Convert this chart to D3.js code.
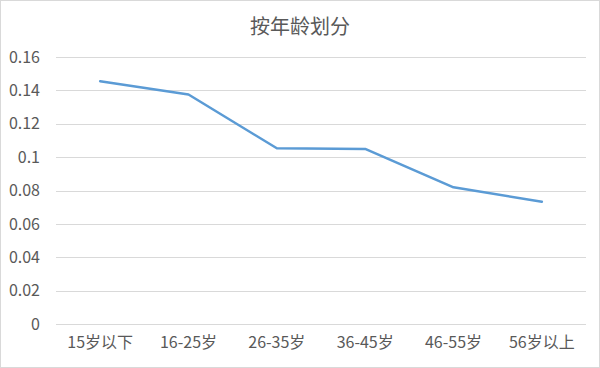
<!DOCTYPE html>
<html><head><meta charset="utf-8">
<script src="https://cdn.jsdelivr.net/npm/d3@7"></script>
<style>
html,body{margin:0;padding:0;background:#fff;}
svg{display:block;}
text{font-family:"Noto Sans CJK SC","Noto Sans",sans-serif;fill:#595959;}
</style></head>
<body>
<svg id="chart" width="600" height="368"></svg>
<script>
const title = "按年龄划分";
const categories = ["15岁以下","16-25岁","26-35岁","36-45岁","46-55岁","56岁以上"];
const values = [0.1455, 0.1375, 0.1053, 0.1049, 0.0819, 0.0733];
const yTicks = [0, 0.02, 0.04, 0.06, 0.08, 0.1, 0.12, 0.14, 0.16];
const yTickLabels = ["0","0.02","0.04","0.06","0.08","0.1","0.12","0.14","0.16"];

const W = 600, H = 368;
const m = {left: 56, right: 14, top: 57, bottom: 44};
const svg = d3.select("#chart");

svg.append("rect").attr("x",0.5).attr("y",0.5).attr("width",W-1).attr("height",H-1)
  .attr("fill","#fff").attr("stroke","#d9d9d9");

const x = d3.scaleBand().domain(categories).range([m.left, W-m.right]);
const y = d3.scaleLinear().domain([0,0.16]).range([H-m.bottom, m.top]);

// gridlines
svg.append("g").selectAll("line").data(yTicks).join("line")
  .attr("x1", m.left).attr("x2", W-m.right)
  .attr("y1", d=>Math.round(y(d))+0.5).attr("y2", d=>Math.round(y(d))+0.5)
  .attr("stroke","#d9d9d9").attr("stroke-width",1);

// y axis labels
const yAxis = d3.axisLeft(y).tickValues(yTicks).tickSize(0).tickPadding(0)
  .tickFormat((d,i)=>yTickLabels[i]);
const gy = svg.append("g").attr("transform",`translate(${m.left-16},0)`).call(yAxis);
gy.select(".domain").remove();
gy.selectAll("text").attr("font-size","16px").style("font-family",'"Noto Sans CJK SC",sans-serif').attr("fill","#595959");

// x axis labels
const xAxis = d3.axisBottom(x).tickSize(0).tickPadding(0);
const gx = svg.append("g").attr("transform",`translate(0,${H-m.bottom+13})`).call(xAxis);
gx.select(".domain").remove();
gx.selectAll("text").attr("font-size","16px").style("font-family",'"Noto Sans CJK SC",sans-serif').attr("fill","#595959");

// line
const line = d3.line().x((d,i)=>x(categories[i])+x.bandwidth()/2).y(d=>y(d));
svg.append("path").datum(values).attr("d",line)
  .attr("fill","none").attr("stroke","#5b9bd5").attr("stroke-width",2.5)
  .attr("stroke-linejoin","round").attr("stroke-linecap","round");

// title
svg.append("text").attr("x",W/2).attr("y",34).attr("text-anchor","middle")
  .attr("font-size","20px").text(title);
</script>
</body></html>
